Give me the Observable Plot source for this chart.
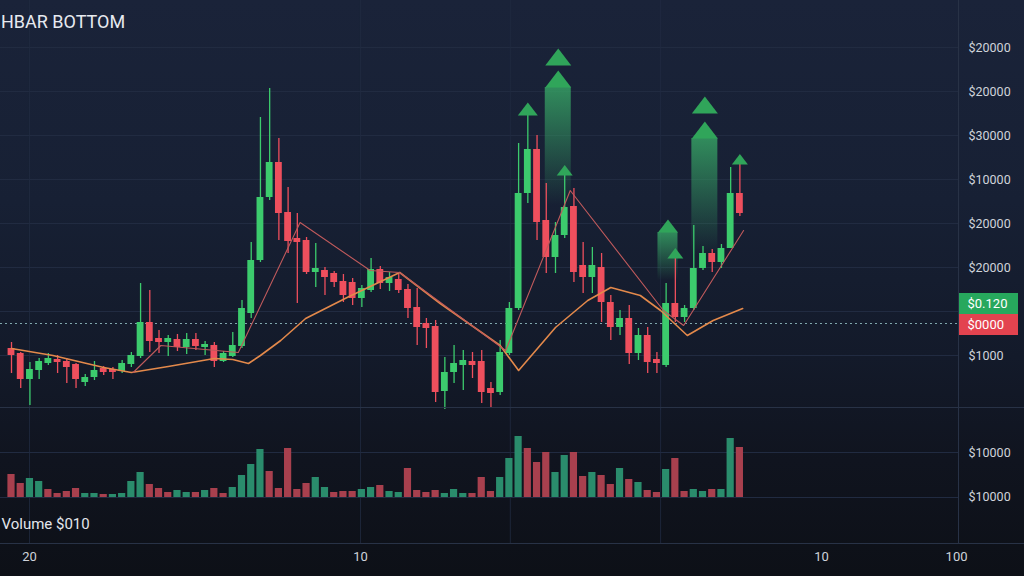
<!DOCTYPE html>
<html>
<head>
<meta charset="utf-8">
<script src="https://cdn.jsdelivr.net/npm/d3@7"></script>
<script src="https://cdn.jsdelivr.net/npm/@observablehq/plot@0.6"></script>
<style>
  html, body { margin: 0; padding: 0; background: #0d1017; }
  #chart { position: relative; width: 1024px; height: 576px; overflow: hidden;
    background: linear-gradient(180deg, #1a2339 0%, #172034 35%, #131a2a 62%, #10141f 80%, #0d1017 100%);
    font-family: Roboto, sans-serif; }
  #price, #volume { position: absolute; left: 0; }
  #price { top: 0; }
  #volume { top: 408px; }
  #title { position: absolute; left: 1px; top: 11px; font-size: 18px; color: #e7eaf0; line-height: 22px; white-space: nowrap; }
  .sep { position: absolute; background: #283246; }
</style>
</head>
<body>
<div id="chart">
  <div id="price"></div>
  <div id="volume"></div>
  <div class="sep" style="left:0;top:407px;width:1024px;height:1px"></div>
  <div class="sep" style="left:0;top:543px;width:1024px;height:1px"></div>
  <div class="sep" style="left:958px;top:0;width:1px;height:543px"></div>
  <div id="title">HBAR BOTTOM</div>
</div>
<script>
// ---------- data ----------
const open = [0.062,0.057,0.031,0.040,0.047,0.051,0.049,0.046,0.028,0.033,
  0.042,0.041,0.039,0.046,0.054,0.088,0.072,0.068,0.071,0.063,
  0.071,0.063,0.065,0.049,0.054,0.064,0.097,0.150,0.213,0.248,
  0.198,0.172,0.170,0.138,0.140,0.137,0.129,0.128,0.112,0.120,
  0.141,0.127,0.131,0.121,0.103,0.087,0.084,0.019,0.038,0.045,
  0.049,0.049,0.022,0.018,0.057,0.102,0.217,0.261,0.190,0.153,
  0.175,0.204,0.145,0.133,0.143,0.108,0.083,0.092,0.057,0.075,
  0.051,0.045,0.107,0.093,0.102,0.142,0.157,0.148,0.162,0.217];
const close = [0.055,0.031,0.041,0.049,0.052,0.048,0.043,0.031,0.033,0.040,
  0.038,0.038,0.047,0.055,0.088,0.069,0.068,0.072,0.063,0.071,
  0.064,0.066,0.049,0.057,0.065,0.102,0.150,0.213,0.248,0.197,
  0.169,0.168,0.138,0.142,0.133,0.128,0.115,0.112,0.122,0.141,
  0.127,0.133,0.120,0.102,0.083,0.082,0.018,0.038,0.047,0.050,
  0.045,0.018,0.017,0.058,0.102,0.217,0.261,0.188,0.153,0.175,
  0.203,0.138,0.133,0.145,0.108,0.083,0.092,0.057,0.075,0.048,
  0.047,0.107,0.093,0.102,0.142,0.157,0.148,0.162,0.217,0.197];
const high = [0.068,0.058,0.048,0.052,0.057,0.055,0.052,0.047,0.036,0.049,
  0.044,0.043,0.050,0.058,0.127,0.120,0.080,0.075,0.076,0.077,
  0.077,0.069,0.068,0.059,0.078,0.110,0.168,0.293,0.322,0.272,
  0.223,0.197,0.173,0.167,0.143,0.139,0.136,0.132,0.125,0.152,
  0.144,0.138,0.136,0.126,0.122,0.092,0.090,0.053,0.065,0.060,
  0.058,0.060,0.028,0.070,0.108,0.267,0.295,0.275,0.227,0.188,
  0.235,0.222,0.168,0.163,0.157,0.115,0.100,0.105,0.082,0.083,
  0.058,0.127,0.152,0.105,0.185,0.164,0.161,0.166,0.243,0.246];
const low = [0.037,0.022,0.005,0.031,0.045,0.037,0.027,0.022,0.024,0.030,
  0.035,0.031,0.037,0.043,0.052,0.058,0.057,0.054,0.059,0.056,
  0.060,0.055,0.043,0.048,0.053,0.062,0.092,0.148,0.210,0.170,
  0.157,0.107,0.136,0.123,0.115,0.123,0.108,0.105,0.103,0.118,
  0.121,0.119,0.117,0.092,0.065,0.062,0.008,0.001,0.027,0.020,
  0.032,0.007,0.003,0.015,0.055,0.100,0.207,0.170,0.137,0.137,
  0.172,0.128,0.117,0.117,0.088,0.070,0.075,0.046,0.050,0.037,
  0.037,0.043,0.088,0.088,0.100,0.140,0.138,0.142,0.162,0.194];
const volume = [23,14,19,16,8,4,6,9,4,4,
  3,3,4,16,25,13,9,5,7,5,
  5,7,9,4,10,22,33,48,26,9,
  49,8,14,20,10,5,6,6,8,10,
  12,6,5,29,7,5,7,4,8,4,
  4,20,6,20,39,61,49,35,45,25,
  42,45,21,25,22,13,29,18,15,7,
  5,28,39,6,8,6,8,8,59,50];
const volUp = [0,0,1,1,0,0,0,0,1,1,
  0,1,1,1,1,0,0,0,1,1,
  0,1,0,0,1,1,1,1,0,0,
  0,0,0,1,1,0,0,0,1,1,
  0,1,1,0,0,0,0,1,1,1,
  0,0,0,1,1,1,0,0,0,1,
  1,0,0,1,0,0,1,0,1,0,
  0,1,0,0,1,1,0,1,1,0];

// slow moving average (orange) and fast line (thin)
const maIdx = [0,4.5,10,13,17,22,24,25.7,27,29.2,31.9,36.4,42.1,46.5,53,55,59,62.5,65,68.2,70.4,73.3,76.1,79.3];
const maVal = [0.062,0.055,0.043,0.038,0.044,0.052,0.051,0.047,0.055,0.070,0.092,0.113,0.138,0.107,0.065,0.040,0.083,0.110,0.123,0.115,0.100,0.075,0.090,0.102];
const fastIdx = [13.2,16.2,24.6,31.3,38.9,42.1,53.6,60.6,70.7,72.9,79.4];
const fastVal = [0.038,0.065,0.058,0.188,0.140,0.138,0.060,0.220,0.100,0.085,0.180];

// breakout arrows
const arrowIdx  = [56, 59.3, 59.3, 60, 71.2, 72, 75.2, 75.2, 79];
const arrowBase = [0.295, 0.345, 0.323, 0.235, 0.178, 0.152, 0.297, 0.272, 0.246];
const arrowKind = ["medium","big","big","small","medium","small","big","big","small"];
const glowIdx    = [59.3, 71.2, 75.2];
const glowTop    = [0.323, 0.178, 0.272];
const glowBottom = [0.205, 0.130, 0.155];
const glowKind   = ["big","medium","big"];

// axis ticks / labels
const priceTicks  = [0.363, 0.319, 0.275, 0.231, 0.187, 0.143, 0.055];
const priceLabels = ["$20000","$20000","$30000","$10000","$20000","$20000","$1000"];
const priceGrid   = [0.363, 0.319, 0.275, 0.231, 0.187, 0.143, 0.099, 0.055];
const lastPrice   = 0.087;
const tagTop    = [0.117, 0.096];
const tagBottom = [0.096, 0.075];
const tagText   = ["$0.120", "$0000"];
const tagUp     = [1, 0];
const volTicks  = [45, 1];
const volLabels = ["$10000", "$10000"];
const volGrid   = [45, 0];
const xTicks    = [1.95, 37.85, 87.85, 102.5];
const xLabels   = ["20", "10", "10", "100"];
const xGrid     = [1.95, 37.85, 54.1, 70.4];

// ---------- styles ----------
const GREEN = "#3ccb6d", RED = "#ee4f5d";
const VGREEN = "#2a8c6c", VRED = "#a8404e";
const ARROW = "#30a55a";
const GRID = "#212b41";
const TEXT = "#cfd3da";
const halfW = {big: 13, medium: 10, small: 8};
const PX = 9.22; // pixels per candle step
const xDomain = [-1.193, 102.71];
const idx = d3.range(open.length);

const tri = {
  draw(ctx, size) {
    const r = Math.sqrt(size / Math.PI);
    ctx.moveTo(-r, 0); ctx.lineTo(r, 0); ctx.lineTo(0, -1.3 * r); ctx.closePath();
  }
};

const defs = () => {
  const d = d3.create("svg:defs");
  const g = d.append("linearGradient").attr("id", "glow").attr("x1", 0).attr("y1", 0).attr("x2", 0).attr("y2", 1);
  g.append("stop").attr("offset", "0%").attr("stop-color", "#38aa67").attr("stop-opacity", 0.78);
  g.append("stop").attr("offset", "100%").attr("stop-color", "#38aa67").attr("stop-opacity", 0);
  return d.node();
};

const up = i => close[i] >= open[i];

const priceChart = Plot.plot({
  width: 1024, height: 410,
  marginTop: 0, marginBottom: 0, marginLeft: 0, marginRight: 66,
  x: {domain: xDomain, axis: null},
  y: {domain: [0, 0.41], axis: null},
  style: {background: "transparent", fontFamily: "Roboto, sans-serif", fontSize: "12.5px", color: TEXT},
  marks: [
    defs,
    Plot.gridY(priceGrid, {stroke: GRID, strokeOpacity: 1}),
    Plot.gridX(xGrid, {stroke: GRID, strokeOpacity: 0.8}),
    Plot.ruleY([lastPrice], {stroke: "#7fa6ad", strokeDasharray: "2,3", strokeWidth: 1.2}),
    Plot.rect(glowIdx, {
      x1: (d, i) => d - halfW[glowKind[i]] / PX, x2: (d, i) => d + halfW[glowKind[i]] / PX,
      y1: (d, i) => glowBottom[i], y2: (d, i) => glowTop[i], fill: "url(#glow)"
    }),
    Plot.ruleX(idx, {x: i => i, y1: i => low[i], y2: i => high[i], stroke: i => up(i) ? GREEN : RED, strokeWidth: 1.3}),
    Plot.rect(idx, {x1: i => i - 0.37, x2: i => i + 0.37, y1: i => open[i], y2: i => close[i], fill: i => up(i) ? GREEN : RED}),
    Plot.line(maIdx, {x: d => d, y: (d, i) => maVal[i], stroke: "#e3894b", strokeWidth: 1.6}),
    Plot.line(fastIdx, {x: d => d, y: (d, i) => fastVal[i], stroke: "#c05a5c", strokeWidth: 1.1}),
    ...["big", "medium", "small"].map(k => Plot.dot(arrowIdx, {
      filter: (d, i) => arrowKind[i] === k,
      x: d => d, y: (d, i) => arrowBase[i], symbol: tri, r: halfW[k], fill: ARROW, stroke: "none"
    })),
    Plot.text(priceTicks, {y: d => d, text: (d, i) => priceLabels[i], frameAnchor: "right", textAnchor: "start", dx: 10, fill: TEXT}),
    Plot.rect(tagText, {
      x1: xDomain[1], x2: xDomain[1] + 60 / PX,
      y1: (d, i) => tagBottom[i], y2: (d, i) => tagTop[i],
      fill: (d, i) => tagUp[i] ? "#27a85d" : "#e3434f"
    }),
    Plot.text(tagText, {
      y: (d, i) => (tagTop[i] + tagBottom[i]) / 2, text: d => d,
      frameAnchor: "right", textAnchor: "start", dx: 9, fill: "#ffffff", fontSize: 13
    })
  ]
});
document.getElementById("price").appendChild(priceChart);

const volChart = Plot.plot({
  width: 1024, height: 168,
  marginTop: 0, marginBottom: 33, marginLeft: 0, marginRight: 66,
  x: {domain: xDomain, axis: null},
  y: {domain: [-46, 89], axis: null},
  style: {background: "transparent", fontFamily: "Roboto, sans-serif", fontSize: "12.5px", color: TEXT},
  marks: [
    Plot.gridY(volGrid, {stroke: GRID, strokeOpacity: 1}),
    Plot.gridX(xGrid, {stroke: GRID, strokeOpacity: 0.8}),
    Plot.rect(idx, {x1: i => i - 0.39, x2: i => i + 0.39, y1: 0, y2: i => volume[i], fill: i => volUp[i] ? VGREEN : VRED}),
    Plot.text(volTicks, {y: d => d, text: (d, i) => volLabels[i], frameAnchor: "right", textAnchor: "start", dx: 10, fill: TEXT}),
    Plot.text(xTicks, {x: d => d, text: (d, i) => xLabels[i], frameAnchor: "bottom", dy: 17, fill: TEXT, fontSize: 13}),
    Plot.text(["Volume $010"], {frameAnchor: "bottom-left", textAnchor: "start", dy: -15, dx: 1, fill: "#e3e6ec", fontSize: 15})
  ]
});
document.getElementById("volume").appendChild(volChart);
</script>
</body>
</html>
